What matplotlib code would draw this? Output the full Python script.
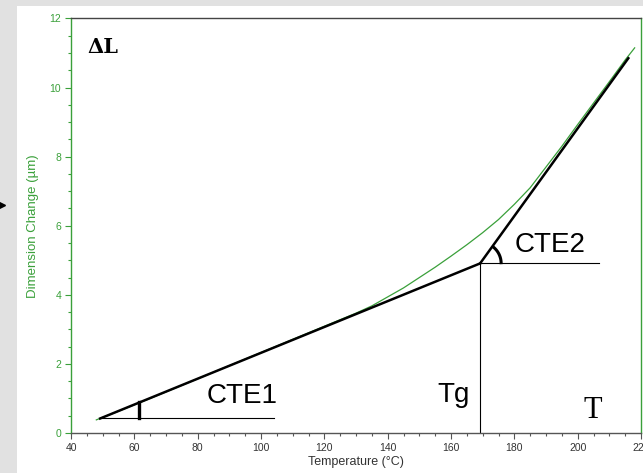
import numpy as np
import matplotlib.pyplot as plt
from matplotlib.patches import Rectangle
from matplotlib.ticker import MultipleLocator

# measured dilatometer trace (temperature degC, dimension change um)
temp = [48, 55, 65, 75, 85, 95, 105, 115, 125, 130, 135, 140, 145, 150, 155,
        160, 165, 170, 175, 180, 185, 190, 195, 200, 205, 210, 215, 218]
dl = [0.38, 0.63, 1.0, 1.38, 1.76, 2.14, 2.52, 2.9, 3.28, 3.47, 3.68, 3.94,
      4.2, 4.5, 4.8, 5.12, 5.45, 5.8, 6.18, 6.62, 7.1, 7.7, 8.3, 8.93, 9.55,
      10.17, 10.8, 11.15]

# tangent construction
tan1_x = [49.2, 169.2]
tan1_y = [0.42, 4.91]
tan2_x = [169.2, 216.0]
tan2_y = [4.91, 10.85]
base1_x = [49.2, 104.0]
base1_y = [0.44, 0.44]
base2_x = [169.2, 206.8]
base2_y = [4.91, 4.91]
tg = 169.2
mark1_x = 61.6

green = '#3aa03a'
dark = '#333333'

fig = plt.figure(figsize=(6.43, 4.73), dpi=100, facecolor='#e1e1e1')
fig.patches.append(Rectangle((17 / 643, 0), 1, 1 - 6 / 473, transform=fig.transFigure,
                             facecolor='white', edgecolor='none', zorder=-10))
fig.lines.append(plt.Line2D([2 / 643], [1 - 205 / 473], marker='>', markersize=4,
                            color='black', transform=fig.transFigure))

ax = fig.add_axes([71 / 643, 1 - 433 / 473, 570 / 643, 414.5 / 473])
ax.set_facecolor('white')

ax.plot(temp, dl, color=green, lw=0.9, zorder=2)
ax.plot(tan1_x, tan1_y, color='black', lw=1.8, zorder=3)
ax.plot(tan2_x, tan2_y, color='black', lw=1.8, zorder=3)
ax.plot(base1_x, base1_y, color='black', lw=0.8)
ax.plot(base2_x, base2_y, color='black', lw=0.8)
ax.plot([tg, tg], [0, tan1_y[1]], color='black', lw=0.8)
ax.plot([mark1_x, mark1_x], [base1_y[0], tan1_y[0] + (mark1_x - tan1_x[0]) *
        (tan1_y[1] - tan1_y[0]) / (tan1_x[1] - tan1_x[0])], color='black', lw=2.4)

# angle arc for CTE2 (radius in pixels converted to data units)
sx = 570 / 180
sy = 414.5 / 12
r_px = 21
ang2 = np.degrees(np.arctan2((tan2_y[1] - tan2_y[0]) * sy, (tan2_x[1] - tan2_x[0]) * sx))
t = np.radians(np.linspace(2, ang2 - 4, 30))
ax.plot(tg + r_px * np.cos(t) / sx, tan2_y[0] + r_px * np.sin(t) / sy, color='black', lw=2.2)

ax.text(45.3, 11.0, 'ΔL', family='DejaVu Serif', weight='bold',
        fontsize=15, ha='left', va='baseline')
ax.text(82.8, 0.86, 'CTE1', family='Liberation Sans', fontsize=20, ha='left', va='baseline')
ax.text(180.2, 5.25, 'CTE2', family='Liberation Sans', fontsize=20, ha='left', va='baseline')
ax.text(155.8, 0.9, 'Tg', family='Liberation Sans', fontsize=20, ha='left', va='baseline')
ax.text(201.7, 0.43, 'T', family='Liberation Serif', fontsize=22, ha='left', va='baseline')

ax.set_xlim(40, 220)
ax.set_ylim(0, 12)
ax.xaxis.set_major_locator(MultipleLocator(20))
ax.xaxis.set_minor_locator(MultipleLocator(5))
ax.yaxis.set_major_locator(MultipleLocator(2))
ax.yaxis.set_minor_locator(MultipleLocator(0.5))

ax.spines['left'].set_color(green)
ax.spines['right'].set_color(green)
ax.spines['top'].set_color('#444444')
ax.spines['bottom'].set_color('#555555')
for s in ax.spines.values():
    s.set_linewidth(1.0)

ax.tick_params(axis='x', which='major', length=4, width=0.8, colors='#555555',
               labelcolor=dark, labelsize=7.5, pad=3)
ax.tick_params(axis='x', which='minor', length=2.5, width=0.8, colors='#555555')
ax.tick_params(axis='y', which='major', length=4, width=0.8, colors=green,
               labelcolor=green, labelsize=7.5, pad=3)
ax.tick_params(axis='y', which='minor', length=2.5, width=0.8, colors=green)
for lab in ax.get_xticklabels() + ax.get_yticklabels():
    lab.set_family('Liberation Sans')

ax.set_xlabel('Temperature (°C)', family='Liberation Sans', fontsize=9, color=dark)
ax.set_ylabel('Dimension Change (µm)', family='Liberation Sans', fontsize=9.5, color=green)
ax.xaxis.set_label_coords(0.5, -0.056)
ax.yaxis.set_label_coords(-0.057, 0.5)

fig.savefig('out.png', dpi=100, facecolor=fig.get_facecolor())
